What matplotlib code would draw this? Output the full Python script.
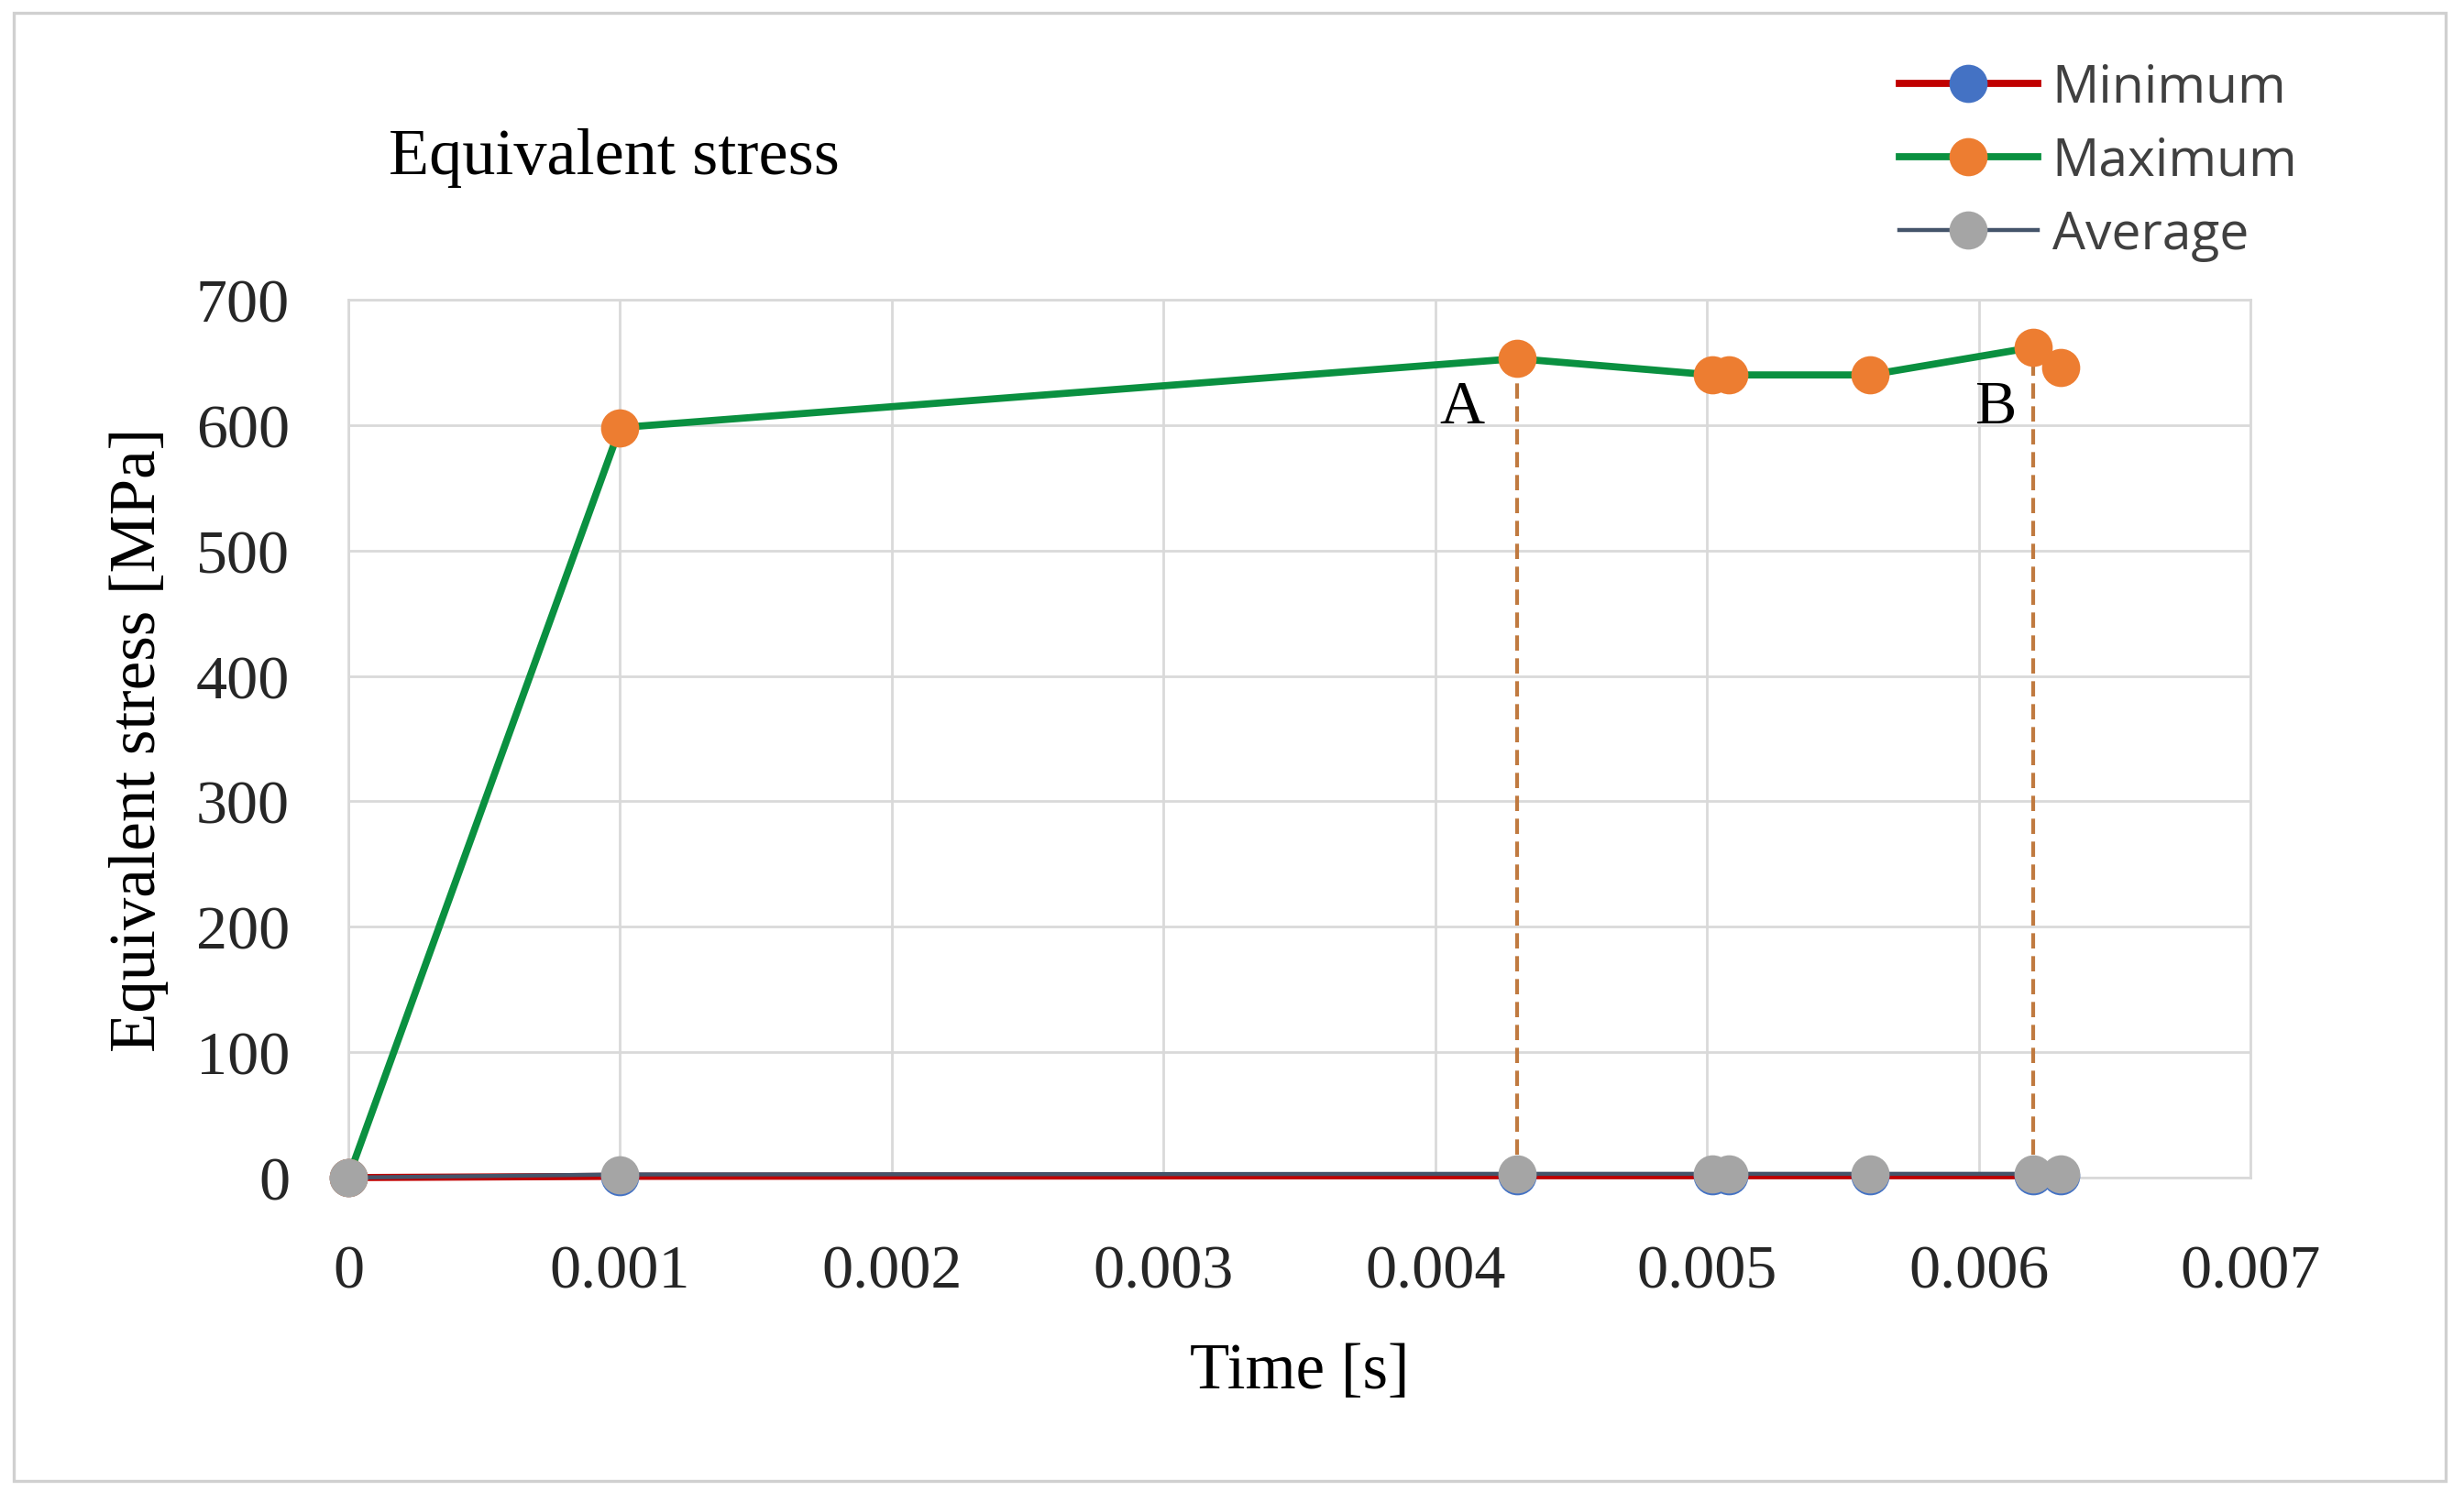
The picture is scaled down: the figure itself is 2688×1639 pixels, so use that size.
import matplotlib.pyplot as plt
from matplotlib.patches import Rectangle

# data
time = [0, 0.001, 0.0043, 0.00502, 0.00508, 0.0056, 0.0062, 0.0063]
s_min = [0, 1, 1.5, 1.5, 1.5, 1.5, 1.5, 1.5]
s_max = [0, 598, 653, 640, 640, 640, 662, 646]
s_avg = [0, 2.5, 3, 3, 3, 3, 3, 3]
marks = ['A', 'B']
mark_idx = [2, 6]
mark_text_x = [0.0041, 0.00606]
mark_text_y = [614, 614]
yticks = [0, 100, 200, 300, 400, 500, 600, 700]
xticks = [0, 0.001, 0.002, 0.003, 0.004, 0.005, 0.006, 0.007]
xticklabels = ['0', '0.001', '0.002', '0.003', '0.004', '0.005', '0.006', '0.007']

serif = 'Liberation Serif'
fs = 25.5
fs_tick = 24.5
W, H = 2688, 1640

fig = plt.figure(figsize=(W / 200, H / 200), dpi=200)
ax = fig.add_axes([380 / W, 1 - 1286 / H, (2455 - 380) / W, (1286 - 328) / H])

# outer chart border
fig.patches.append(Rectangle((15 / W, 1 - 1617 / H), (2668 - 15) / W, (1617 - 15) / H,
                             transform=fig.transFigure, fill=False,
                             edgecolor='#d0d0d0', linewidth=1.2))

ms = 14
ax.plot(time, s_min, color='#c00000', lw=2.8, marker='o', ms=ms,
        mfc='#4472c4', mec='#4472c4', label='Minimum', zorder=3, clip_on=False)
ax.plot(time, s_max, color='#0a9040', lw=2.8, marker='o', ms=ms,
        mfc='#ed7d31', mec='#ed7d31', label='Maximum', zorder=4, clip_on=False)
ax.plot(time, s_avg, color='#44546a', lw=1.6, marker='o', ms=ms,
        mfc='#a5a5a5', mec='#a5a5a5', label='Average', zorder=5, clip_on=False)

for m, i, tx, ty in zip(marks, mark_idx, mark_text_x, mark_text_y):
    ax.vlines(time[i], 0, s_max[i], colors='#c07a40', lw=1.5,
              linestyles=(0, (4, 2)), zorder=3.5)
    ax.text(tx, ty, m, family=serif, fontsize=fs_tick, ha='center', va='center',
            color='black', zorder=6)

ax.set_xlim(0, 0.007)
ax.set_ylim(0, 700)
ax.set_xticks(xticks)
ax.set_xticklabels(xticklabels)
ax.set_yticks(yticks)
ax.grid(True, color='#d9d9d9', lw=1.0)
ax.set_axisbelow(True)
for sp in ax.spines.values():
    sp.set_color('#d9d9d9')
    sp.set_linewidth(1.0)
ax.tick_params(length=0, labelsize=fs_tick, labelcolor='#262626')
ax.tick_params(axis='x', pad=26)
ax.tick_params(axis='y', pad=23)
for lab in ax.get_xticklabels() + ax.get_yticklabels():
    lab.set_family(serif)

ax.set_xlabel('Time [s]', family=serif, fontsize=fs)
ax.xaxis.set_label_coords(0.5, (1286 - 1498) / 958)
ax.xaxis.label.set_va('center')
ax.set_ylabel('Equivalent stress [MPa]', family=serif, fontsize=fs)
ax.yaxis.set_label_coords((152 - 380) / 2075, 0.5)
ax.yaxis.label.set_va('center')

ax.set_title('Equivalent stress', family=serif, fontsize=26, loc='left',
             x=(424 - 380) / 2075, y=(1286 - 189) / 958, va='center')

leg = fig.legend(loc='upper left', bbox_to_anchor=(2072 / W, 1 - 69 / H),
                 frameon=False, borderpad=0, borderaxespad=0,
                 handlelength=2.65, handletextpad=0.28, labelspacing=0.4,
                 prop={'family': 'Open Sans', 'size': 20.5})
for t in leg.get_texts():
    t.set_color('#404040')

fig.savefig('out.png', dpi=200, facecolor='white')
